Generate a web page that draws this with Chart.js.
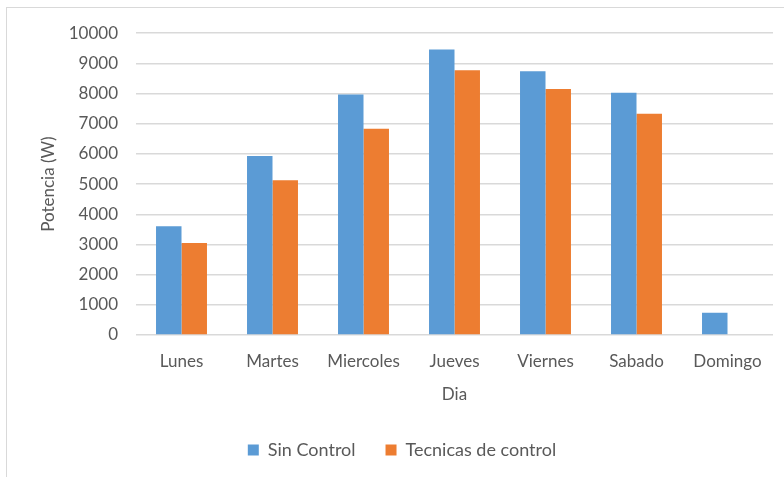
<!DOCTYPE html>
<html>
<head>
<meta charset="utf-8">
<script src="https://cdn.jsdelivr.net/npm/chart.js@4"></script>
<style>
  html, body { margin: 0; padding: 0; background: #fff; }
  #marco {
    position: absolute; left: 6px; top: 7px;
    width: 778px; height: 470px;
    border-top: 1px solid #d9d9d9;
    border-left: 1px solid #d9d9d9;
  }
  #wrap {
    position: absolute; left: 7px; top: 5px;
    width: 777px; height: 472px;
  }
</style>
</head>
<body>
<div id="marco"></div>
<div id="wrap"><canvas id="potencia"></canvas></div>
<script>
var dias = ['Lunes', 'Martes', 'Miercoles', 'Jueves', 'Viernes', 'Sabado', 'Domingo'];
var sinControl = [3600, 5930, 7970, 9460, 8740, 8030, 740];
var conControl = [3050, 5130, 6830, 8770, 8150, 7330, 0];

var gris = '#595959';
Chart.defaults.font.family = 'Lato, "Open Sans", sans-serif';
Chart.defaults.font.size = 17;
Chart.defaults.color = gris;

// corre la leyenda un poco a la derecha
var moverLeyenda = {
  id: 'moverLeyenda',
  afterLayout: function (chart) {
    chart.legend.left += 12;
    chart.legend.right += 12;
  }
};

var ctx = document.getElementById('potencia').getContext('2d');

var chart = new Chart(ctx, {
  type: 'bar',
  data: {
    labels: dias,
    datasets: [{
      label: 'Sin Control',
      data: sinControl,
      backgroundColor: '#5B9BD5',
      categoryPercentage: 0.56,
      barPercentage: 1
    }, {
      label: 'Tecnicas de control',
      data: conControl,
      backgroundColor: '#ED7D31',
      categoryPercentage: 0.56,
      barPercentage: 1
    }]
  },
  plugins: [moverLeyenda],
  options: {
    responsive: true,
    maintainAspectRatio: false,
    animation: false,
    layout: { padding: { top: 18, right: 11, left: 0, bottom: 8 } },
    plugins: {
      tooltip: { enabled: false },
      legend: {
        position: 'bottom',
        labels: {
          boxWidth: 11, boxHeight: 11, padding: 30, color: gris,
          font: { size: 18 }
        }
      }
    },
    scales: {
      x: {
        grid: { display: false },
        border: { display: false },
        ticks: { padding: 8 },
        title: { display: true, text: 'Dia', padding: { top: 4, bottom: 6 } },
        afterFit: function (s) { s.height = 76; }
      },
      y: {
        min: 0,
        max: 10000,
        ticks: {
          stepSize: 1000,
          padding: 18,
          callback: function (v) { return String(v); }
        },
        grid: { color: '#d9d9d9', lineWidth: 1.5, drawTicks: false },
        border: { display: false },
        title: { display: true, text: 'Potencia (W)', padding: { top: 31, bottom: 0 } },
        afterFit: function (s) { s.width = 129; }
      }
    }
  }
});
</script>
</body>
</html>
